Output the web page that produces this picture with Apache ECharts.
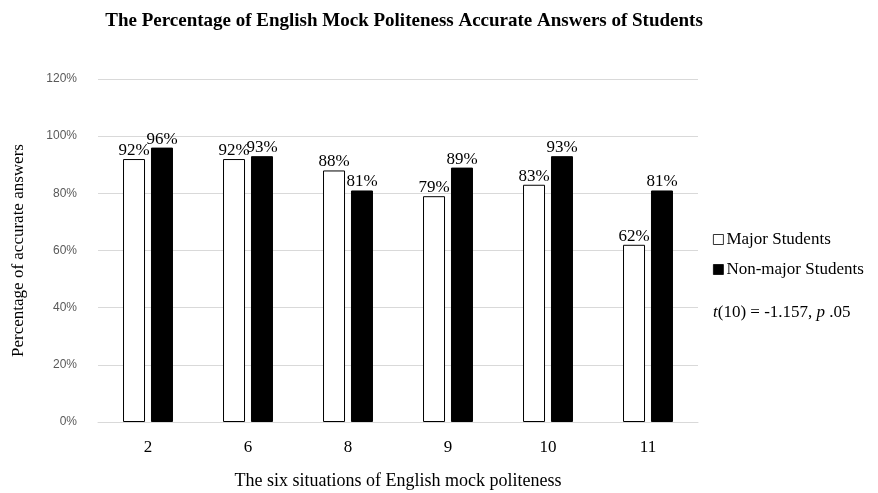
<!DOCTYPE html>
<html>
<head>
<meta charset="utf-8">
<script src="https://cdn.jsdelivr.net/npm/echarts@6/dist/echarts.min.js"></script>
<style>
  html, body { margin: 0; padding: 0; background: #fff; }
  #main { width: 878px; height: 493px; }
</style>
</head>
<body>
<div id="main"></div>
<script>
// situations (x axis)
var situations = ['2', '6', '8', '9', '10', '11'];
// percent of accurate answers
var majorValues = [92, 92, 88, 79, 83, 62];
var nonMajorValues = [96, 93, 81, 89, 93, 81];

var serif = '"Liberation Serif", "DejaVu Serif", serif';

var chart = echarts.init(document.getElementById('main'));

var labelStyle = {
  show: true,
  position: 'top',
  distance: 0,
  fontFamily: serif,
  fontSize: 17,
  color: '#000',
  formatter: '{c}%'
};

var option = {
  animation: false,
  title: {
    text: 'The Percentage of English Mock Politeness Accurate Answers of Students',
    left: 399,
    textAlign: 'center',
    top: 7,
    textStyle: { fontFamily: serif, fontSize: 19, fontWeight: 'bold', color: '#000' }
  },
  legend: {
    orient: 'vertical',
    left: 708,
    top: 226,
    itemWidth: 10,
    itemHeight: 10,
    itemGap: 13,
    icon: 'rect',
    itemStyle: { borderWidth: 0.8 },
    textStyle: { fontFamily: serif, fontSize: 17, color: '#000', padding: [0, 0, 0, -2] },
    data: ['Major Students', 'Non-major Students']
  },
  grid: { left: 98, right: 180, top: 79, bottom: 71, outerBoundsMode: 'none', containLabel: false },
  xAxis: {
    type: 'category',
    data: situations,
    name: 'The six situations of English mock politeness',
    nameLocation: 'middle',
    nameGap: 50,
    nameTextStyle: { fontFamily: serif, fontSize: 18, color: '#000' },
    axisLine: { lineStyle: { color: '#d9d9d9', width: 1 } },
    axisTick: { show: false },
    axisLabel: { fontFamily: serif, fontSize: 17, color: '#000', margin: 17 }
  },
  yAxis: {
    type: 'value',
    min: 0,
    max: 120,
    interval: 20,
    name: 'Percentage of accurate answers',
    nameLocation: 'middle',
    nameGap: 71,
    nameTextStyle: { fontFamily: serif, fontSize: 17, color: '#000' },
    axisLine: { show: false },
    axisTick: { show: false },
    axisLabel: {
      formatter: '{value}%',
      fontFamily: '"Liberation Sans", "DejaVu Sans", sans-serif',
      fontSize: 12,
      color: '#595959',
      margin: 21
    },
    splitLine: { lineStyle: { color: '#d9d9d9', width: 1 } }
  },
  series: [
    {
      name: 'Major Students',
      type: 'bar',
      data: majorValues,
      barWidth: 22,
      barGap: '27%',
      itemStyle: { color: '#fff', borderColor: '#000', borderWidth: 1 },
      label: labelStyle
    },
    {
      name: 'Non-major Students',
      type: 'bar',
      data: nonMajorValues,
      barWidth: 22,
      itemStyle: { color: '#000', borderColor: '#000', borderWidth: 1 },
      label: labelStyle
    }
  ],
  graphic: [
    {
      type: 'text',
      left: 713,
      top: 304,
      style: {
        text: '{i|t}(10) = -1.157, {i|p} .05',
        font: '17px ' + serif,
        fill: '#000',
        rich: {
          i: { fontStyle: 'italic', fontFamily: serif, fontSize: 17, fill: '#000' }
        }
      }
    }
  ]
};

chart.setOption(option);
</script>
</body>
</html>
